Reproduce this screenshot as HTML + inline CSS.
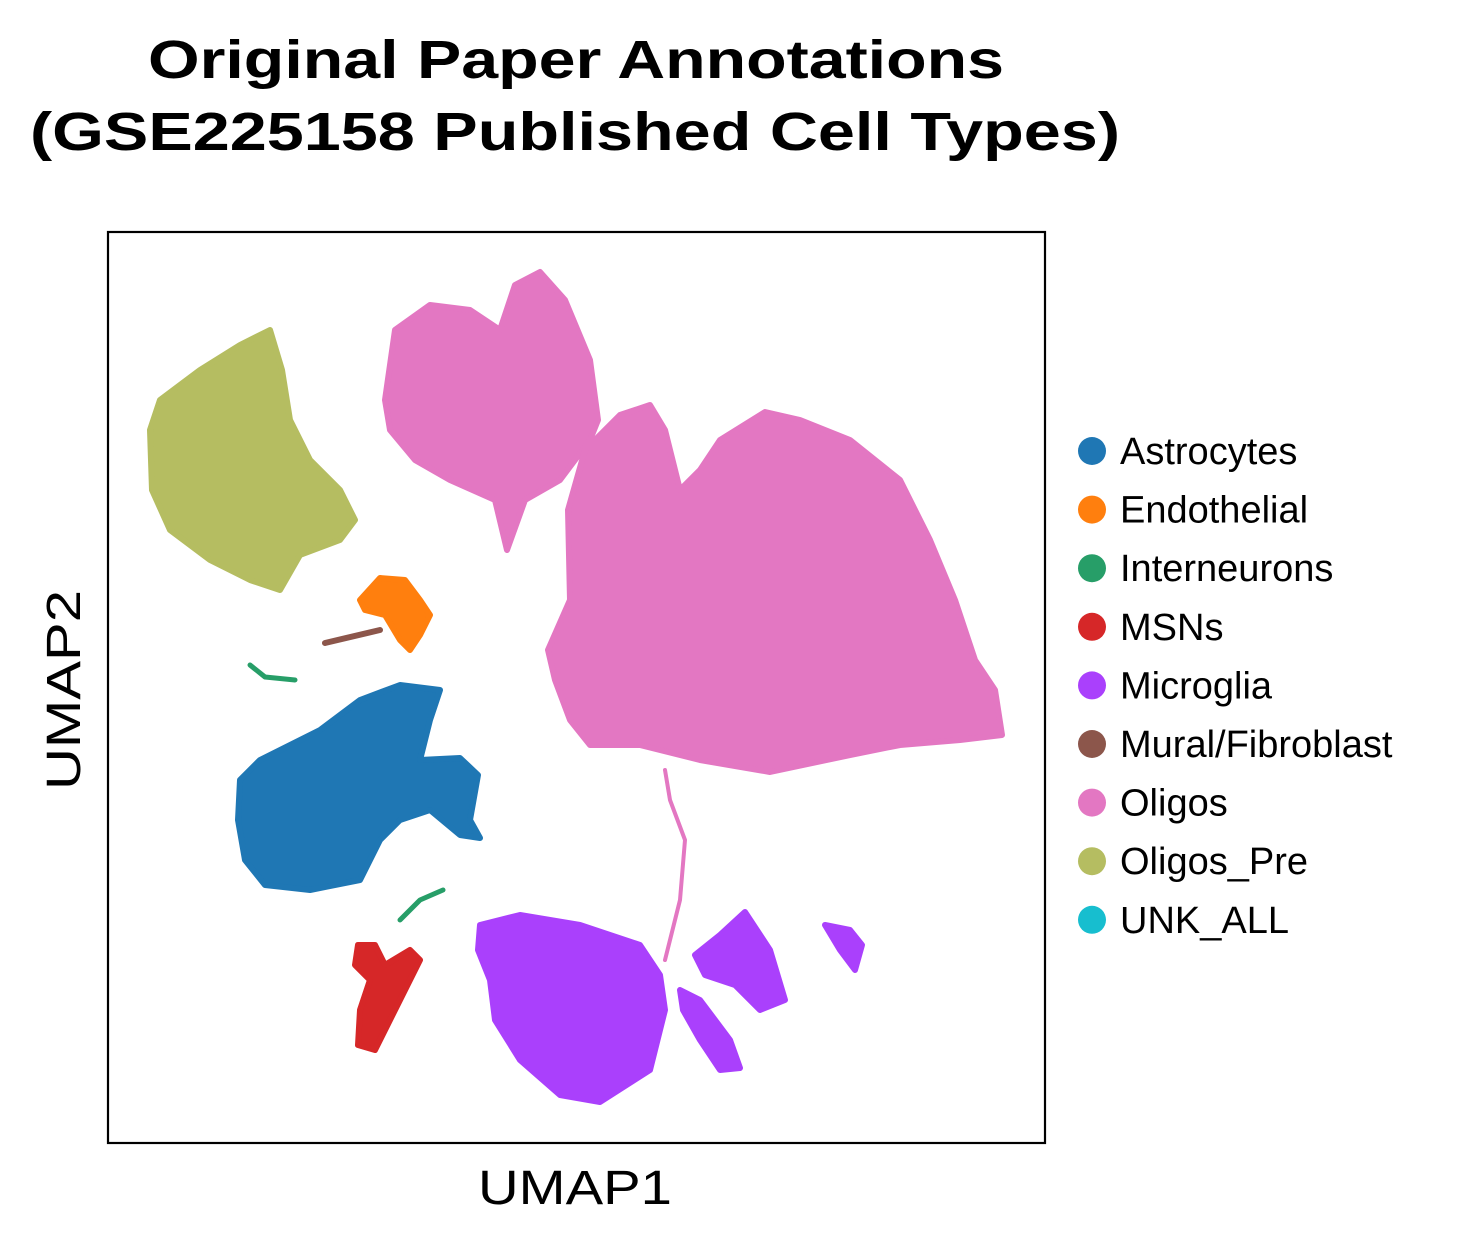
<!DOCTYPE html>
<html><head><meta charset="utf-8">
<style>
html,body{margin:0;padding:0;background:#fff;}
svg{display:block;font-family:"Liberation Sans",Arial,sans-serif;}
</style></head>
<body>
<svg id="chart" width="1464" height="1245" viewBox="0 0 1464 1245">
<text x="576" y="78" text-anchor="middle" font-size="54" font-weight="bold" textLength="856" lengthAdjust="spacingAndGlyphs">Original Paper Annotations</text>
<text x="575" y="150" text-anchor="middle" font-size="54" font-weight="bold" textLength="1090" lengthAdjust="spacingAndGlyphs">(GSE225158 Published Cell Types)</text>
<g id="marks"></g>
<rect x="108" y="232" width="937" height="911" fill="none" stroke="#000" stroke-width="2.2"/>
<text x="575" y="1204" text-anchor="middle" font-size="48" textLength="194" lengthAdjust="spacingAndGlyphs">UMAP1</text>
<text transform="translate(80,690) rotate(-90)" text-anchor="middle" font-size="48" textLength="200" lengthAdjust="spacingAndGlyphs">UMAP2</text>
<g id="legend"></g>
</svg>
<script>
const categories=["Astrocytes","Endothelial","Interneurons","MSNs","Microglia","Mural/Fibroblast","Oligos","Oligos_Pre","UNK_ALL"];
const colors=["#1f77b4","#ff7f0e","#279e68","#d62728","#aa40fc","#8c564b","#e377c2","#b5bd61","#17becf"];
// cluster outlines in UMAP data units
const oligosMain=[[440,493],[462,543],[460,633],[477,693],[512,728],[542,738],[557,713],[572,653],[592,673],[612,703],[657,731],[692,723],[742,703],[792,663],[822,603],[847,543],[867,483],[887,453],[894,408],[852,403],[792,398],[742,388],[662,371],[592,383],[532,398],[482,398],[462,423],[447,463]];
const oligosUpper=[[277,743],[287,813],[322,838],[362,833],[392,813],[407,858],[432,871],[457,843],[482,783],[490,723],[482,703],[452,663],[417,643],[399,593],[387,643],[342,663],[307,683],[282,713]];
const oligosPre=[[42,713],[52,743],[92,773],[132,798],[162,813],[174,773],[182,723],[202,683],[232,653],[247,623],[232,603],[192,588],[172,553],[142,563],[102,583],[62,613],[44,653]];
const astro=[[132,363],[152,383],[212,413],[252,443],[292,458],[332,453],[322,423],[312,383],[352,385],[370,368],[362,323],[372,305],[352,308],[322,333],[292,323],[272,303],[252,263],[202,253],[157,258],[137,283],[130,323]];
const microMain=[[372,218],[412,228],[472,218],[532,198],[552,168],[557,133],[542,73],[492,41],[452,48],[412,83],[387,123],[382,163],[370,193]];
const microRight=[[587,188],[612,208],[637,231],[662,193],[677,143],[652,133],[627,158],[597,168]];
const microTail=[[572,153],[592,143],[622,103],[632,75],[612,73],[592,103],[575,133]];
const microFar=[[717,218],[742,213],[754,198],[747,173],[732,193]];
const msns=[[250,198],[267,198],[277,178],[302,193],[312,183],[292,143],[272,103],[267,93],[250,98],[252,133],[262,163],[247,178]];
const endo=[[252,543],[272,565],[297,563],[312,543],[322,528],[312,508],[302,493],[292,503],[277,528],[257,533]];
const muralLine=[[217,500],[272,513]];
const interLine1=[[142,478],[157,466],[187,463]];
const interLine2=[[292,223],[312,243],[335,253]];
const oligosStream=[[557,373],[562,343],[577,303],[572,243],[557,183]];

const X0=108,X1=1045,Y0=232,Y1=1143,DX=937,DY=911;
const xs=v=>X0+v/DX*(X1-X0);
const ys=v=>Y1-v/DY*(Y1-Y0);
const NS="http://www.w3.org/2000/svg";
const g=document.getElementById('marks');
function pts(a){return a.map(p=>xs(p[0]).toFixed(1)+","+ys(p[1]).toFixed(1)).join(" ");}
function poly(a,c,name){
  const e=document.createElementNS(NS,'polygon');
  e.setAttribute('points',pts(a));
  e.setAttribute('fill',c);e.setAttribute('stroke',c);
  e.setAttribute('stroke-width','6');e.setAttribute('stroke-linejoin','round');
  
  
  g.appendChild(e);
}
function line(a,c,w,name){
  const e=document.createElementNS(NS,'polyline');
  e.setAttribute('points',pts(a));
  e.setAttribute('fill','none');e.setAttribute('stroke',c);
  e.setAttribute('stroke-width',w);e.setAttribute('stroke-linecap','round');e.setAttribute('stroke-linejoin','round');
  
  
  g.appendChild(e);
}
poly(oligosPre,colors[7],'cluster-oligos-pre');
poly(oligosUpper,colors[6],'cluster-oligos-upper');
poly(oligosMain,colors[6],'cluster-oligos-main');
line(oligosStream,colors[6],4,'cluster-oligos-stream');
poly(astro,colors[0],'cluster-astrocytes');
poly(endo,colors[1],'cluster-endothelial');
line(muralLine,colors[5],6,'cluster-mural-fibroblast');
line(interLine1,colors[2],5,'cluster-interneurons-a');
line(interLine2,colors[2],5,'cluster-interneurons-b');
poly(msns,colors[3],'cluster-msns');
poly(microMain,colors[4],'cluster-microglia-main');
poly(microRight,colors[4],'cluster-microglia-right');
poly(microTail,colors[4],'cluster-microglia-tail');
poly(microFar,colors[4],'cluster-microglia-far');

const lg=document.getElementById('legend');
categories.forEach((c,i)=>{
  const y=451+i*58.6;
  const ci=document.createElementNS(NS,'circle');
  ci.setAttribute('cx',1092);ci.setAttribute('cy',y);ci.setAttribute('r',14);ci.setAttribute('fill',colors[i]);
  
  
  lg.appendChild(ci);
  const t=document.createElementNS(NS,'text');
  t.setAttribute('x',1120);t.setAttribute('y',y+13);t.setAttribute('font-size','38');
  t.textContent=c;
  
  
  lg.appendChild(t);
});
</script>
</body></html>
